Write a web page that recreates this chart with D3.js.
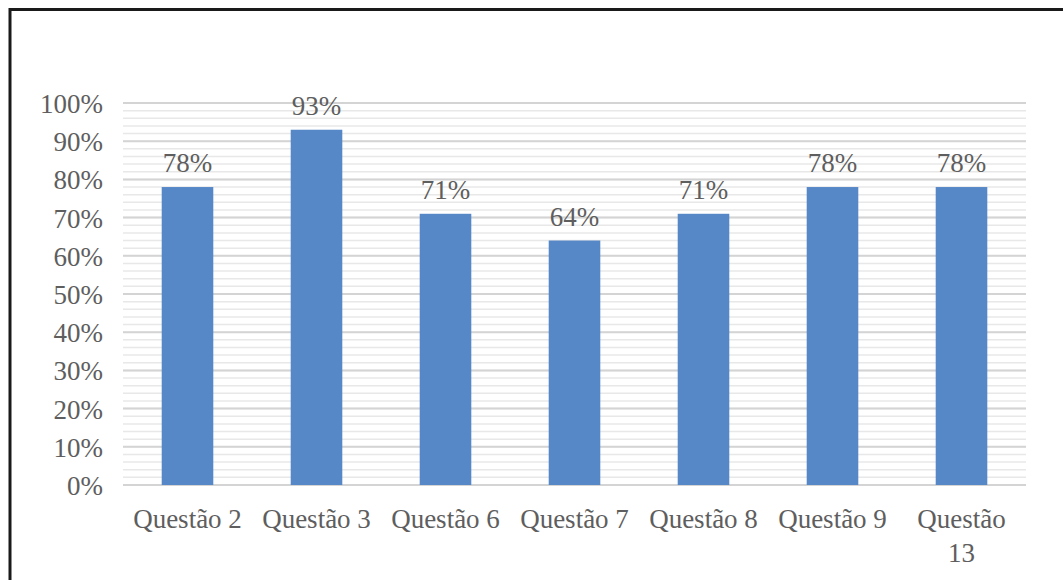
<!DOCTYPE html>
<html>
<head>
<meta charset="utf-8">
<script src="https://d3js.org/d3.v7.min.js"></script>
<style>
  body { margin: 0; background: #fff; }
</style>
</head>
<body>
<svg id="chart" width="1063" height="580"></svg>
<script>
// data
var categories = ["Questão 2", "Questão 3", "Questão 6", "Questão 7", "Questão 8", "Questão 9", "Questão 13"];
var values = [0.78, 0.93, 0.71, 0.64, 0.71, 0.78, 0.78];
var majorTicks = [0, 0.1, 0.2, 0.3, 0.4, 0.5, 0.6, 0.7, 0.8, 0.9, 1.0];
var minorTicks = d3.range(0, 51).map(function(i) { return i / 50; });

var svg = d3.select("#chart");
var serif = "'Liberation Serif', 'DejaVu Serif', serif";
var fontSize = "27px";
var textColor = "#5e5e5e";

// frame (only top and left visible, rest is cut off)
svg.append("path")
    .attr("d", "M10,1000 L10,9.5 L1100,9.5")
    .attr("fill", "none")
    .attr("stroke", "#1a1a1a")
    .attr("stroke-width", 3);

var plotLeft = 123, plotRight = 1026, plotTop = 103, plotBottom = 485;

var x = d3.scaleBand().domain(categories).range([plotLeft, plotRight]).paddingInner(0.6).paddingOuter(0.3);
var y = d3.scaleLinear().domain([0, 1]).range([plotBottom, plotTop]);

// minor grid
svg.append("g").selectAll("line")
    .data(minorTicks)
    .enter().append("line")
    .attr("x1", plotLeft).attr("x2", plotRight)
    .attr("y1", d => y(d)).attr("y2", d => y(d))
    .attr("stroke", "#e8e8e8")
    .attr("stroke-width", 1.5);

// major grid
svg.append("g").selectAll("line")
    .data(majorTicks)
    .enter().append("line")
    .attr("x1", plotLeft).attr("x2", plotRight)
    .attr("y1", d => y(d)).attr("y2", d => y(d))
    .attr("stroke", "#d4d4d4")
    .attr("stroke-width", 2);

// y axis labels
var yAxis = d3.axisLeft(y).tickValues(majorTicks).tickFormat(d3.format(".0%")).tickSize(0).tickPadding(20);
var gy = svg.append("g").attr("transform", "translate(" + plotLeft + ",0)").call(yAxis);
gy.select(".domain").remove();
gy.selectAll("text")
    .style("font-family", serif)
    .style("font-size", fontSize)
    .style("fill", textColor)
    .attr("dy", "0.35em");

// bars
svg.append("g").selectAll("rect")
    .data(values)
    .enter().append("rect")
    .attr("x", (d, i) => x(categories[i]))
    .attr("width", x.bandwidth())
    .attr("y", d => y(d))
    .attr("height", d => y(0) - y(d))
    .attr("fill", "#5687c6");

// value labels
svg.append("g").selectAll("text")
    .data(values)
    .enter().append("text")
    .attr("x", (d, i) => x(categories[i]) + x.bandwidth() / 2)
    .attr("y", d => y(d) - 15)
    .attr("text-anchor", "middle")
    .style("font-family", serif)
    .style("font-size", fontSize)
    .style("fill", textColor)
    .text(d => Math.round(d * 100) + "%");

// x axis labels, wrap the long one
var xAxis = d3.axisBottom(x).tickSize(0).tickPadding(0);
var gx = svg.append("g").attr("transform", "translate(0," + plotBottom + ")").call(xAxis);
gx.select(".domain").remove();
gx.selectAll("text").each(function(d) {
    var t = d3.select(this);
    t.text(null).attr("y", 0).attr("dy", null)
        .style("font-family", serif)
        .style("font-size", fontSize)
        .style("fill", textColor);
    var parts = d === "Questão 13" ? ["Questão", "13"] : [d];
    parts.forEach(function(p, k) {
        t.append("tspan").attr("x", 0).attr("y", 43 + k * 34).text(p);
    });
});
</script>
</body>
</html>
